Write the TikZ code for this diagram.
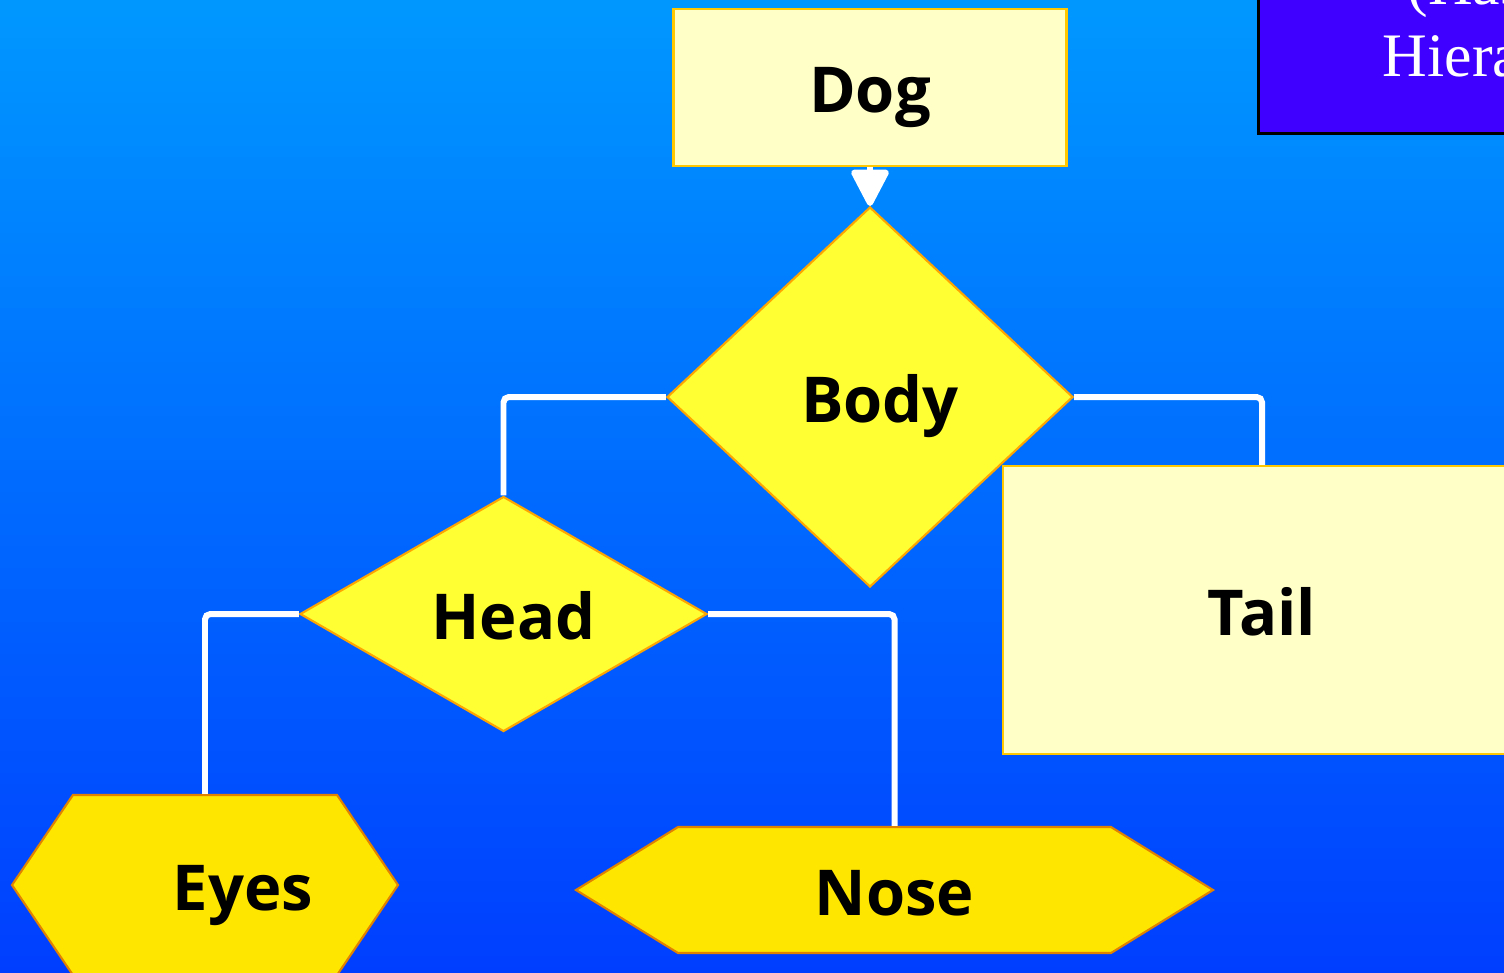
\documentclass[tikz,border=0pt]{standalone}
\usepackage{fontspec}
\newfontfamily\boxfont{Open Sans}
\newfontfamily\titlefont{Liberation Serif}
\usepackage{tikz}
\usetikzlibrary{arrows.meta,shapes.geometric,shapes.symbols}

\definecolor{skytop}{RGB}{0,152,255}
\definecolor{skybot}{RGB}{0,62,255}
\definecolor{paleyel}{RGB}{255,255,200}
\definecolor{goldedge}{RGB}{255,200,0}
\definecolor{lemon}{RGB}{255,255,51}
\definecolor{orangeedge}{RGB}{255,165,0}
\definecolor{deepyel}{RGB}{255,230,0}
\definecolor{rustedge}{RGB}{225,130,0}
\definecolor{hasbox}{RGB}{64,0,255}

\tikzset{
  part/.style={font=\boxfont\bfseries\fontsize{18}{20}\selectfont, text height=14.5pt, text depth=0pt,
    line width=0.6pt, inner sep=0pt},
  whole/.style={part, rectangle, fill=paleyel, draw=goldedge},
  limb/.style={part, diamond, fill=lemon, draw=orangeedge},
  feature/.style={part, signal, signal to=west and east, fill=deepyel, draw=rustedge},
  link/.style={draw=white, line width=1.7pt, rounded corners=1.5pt},
  titlebox/.style={rectangle, fill=hasbox, draw=black, line width=0.9pt},
  titletext/.style={font=\titlefont\fontsize{17.6}{20}\selectfont, text=white, inner sep=0pt},
}

\begin{document}
\begin{tikzpicture}
  % backdrop
  \useasboundingbox (0,0) rectangle (15.04,-9.72);
  \shade[top color=skytop, bottom color=skybot] (0,0) rectangle (15.04,-9.72);
  % caption box, cut by the page edge
  \node[titlebox, anchor=south west, minimum width=3.4cm, minimum height=1.8cm] (title) at (12.57,-1.35) {};
  \node[titletext, anchor=base west] (line1) at (14.07,-0.04) {(Has-a};
  \node[titletext, anchor=base west] (line2) at (13.82,-0.76) {Hierarchy)};
  % parts of the dog
  \node[whole, minimum width=3.93cm, minimum height=1.57cm] (dog) at (8.70,-0.875) {Dog};
  \node[limb, minimum width=4.06cm, minimum height=3.80cm] (body) at (8.70,-3.97) {\hspace*{0.2cm}Body};
  \node[limb, minimum width=4.07cm, minimum height=2.30cm] (head) at (5.035,-6.14) {\hspace*{0.2cm}Head};
  \node[whole, minimum width=5.18cm, minimum height=2.88cm] (tail) at (12.62,-6.10) {Tail};
  \node[feature, signal pointer angle=111.8, minimum width=3.86cm, minimum height=1.80cm] (eyes) at (2.05,-8.85) {\hspace*{0.76cm}Eyes};
  \node[feature, signal pointer angle=63.4, minimum width=6.37cm, minimum height=1.26cm] (nose) at (8.945,-8.90) {Nose};
  % connectors
  \draw[link, -{Triangle[width=0.4cm, length=0.4cm, round]}] (dog.south) -- (body.north);
  \draw[link] (body.west) -| (head.north);
  \draw[link] (body.east) -| (tail.north);
  \draw[link] (head.west) -| (eyes.north);
  \draw[link] (head.east) -| (nose.north);
\end{tikzpicture}
\end{document}
